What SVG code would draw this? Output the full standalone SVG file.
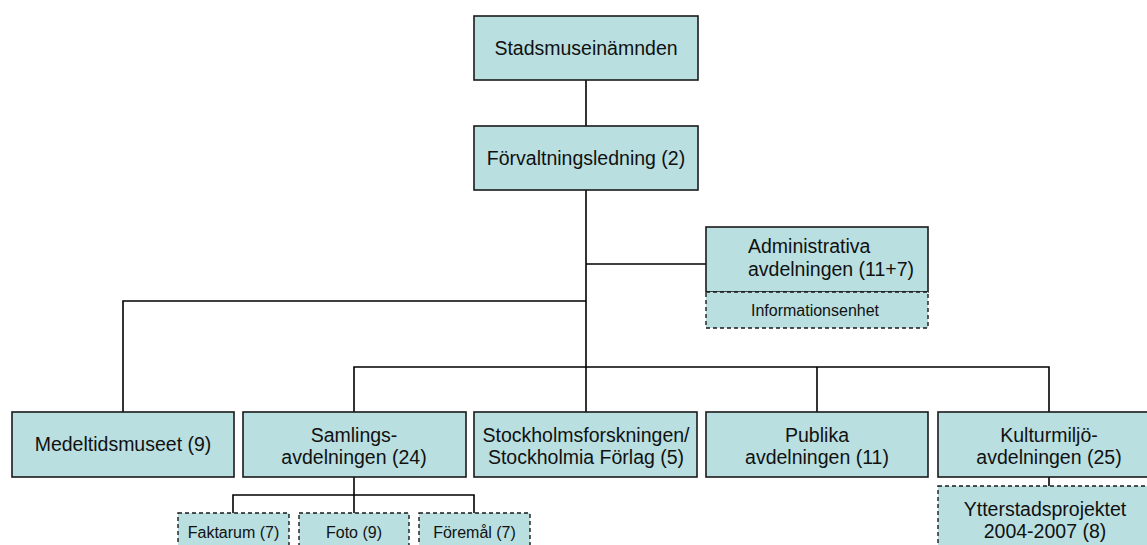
<svg xmlns="http://www.w3.org/2000/svg" width="1147" height="545" viewBox="0 0 1147 545">
<style>
.box{fill:#b9dfe0;stroke:#1a1a1a;stroke-width:1.6}
.dash{fill:#b9dfe0;stroke:#1a1a1a;stroke-width:1.4;stroke-dasharray:4 3}
.t{font-family:"Liberation Sans",Arial,sans-serif;font-size:19.5px;fill:#111;text-anchor:middle}
.s{font-family:"Liberation Sans",Arial,sans-serif;font-size:16px;fill:#111;text-anchor:middle}
.ln{fill:none;stroke:#000;stroke-width:1.6}
</style>
<rect width="1147" height="545" fill="#fff"/>
<g id="connectors">
<path class="ln" d="M586 80V126"/>
<path class="ln" d="M586 190V412" stroke-width="2"/>
<path class="ln" d="M586 264H706"/>
<path class="ln" d="M586 301H123V412"/>
<path class="ln" d="M354 412V367H1049V412"/>
<path class="ln" d="M817 367V412"/>
<path class="ln" d="M354 477V513"/>
<path class="ln" d="M233 513V495H474V513"/>
<path class="ln" d="M1049 477V486"/>
</g>
<g id="n-stadsmuseinamnden">
<rect class="box" x="474" y="16" width="224" height="64"/>
<text class="t" x="586" y="55">Stadsmuseinämnden</text>
</g>
<g id="n-forvaltningsledning">
<rect class="box" x="474" y="126" width="224" height="64"/>
<text class="t" x="586" y="165">Förvaltningsledning (2)</text>
</g>
<g id="n-administrativa">
<rect class="box" x="706" y="227" width="222" height="65"/>
<text class="t" x="748" y="253" style="text-anchor:start">Administrativa</text>
<text class="t" x="748" y="276" style="text-anchor:start">avdelningen (11+7)</text>
</g>
<g id="n-informationsenhet">
<rect class="dash" x="706" y="292" width="222" height="36"/>
<text class="s" x="815" y="316">Informationsenhet</text>
</g>
<g id="n-medeltidsmuseet">
<rect class="box" x="12" y="412" width="222" height="65"/>
<text class="t" x="123" y="451">Medeltidsmuseet (9)</text>
</g>
<g id="n-samlings">
<rect class="box" x="243" y="412" width="223" height="65"/>
<text class="t" x="354" y="442">Samlings-</text>
<text class="t" x="354" y="464">avdelningen (24)</text>
</g>
<g id="n-stockholmsforskningen">
<rect class="box" x="474" y="412" width="223" height="65"/>
<text class="t" x="586" y="442">Stockholmsforskningen/</text>
<text class="t" x="586" y="464">Stockholmia Förlag (5)</text>
</g>
<g id="n-publika">
<rect class="box" x="706" y="412" width="222" height="65"/>
<text class="t" x="817" y="442">Publika</text>
<text class="t" x="817" y="464">avdelningen (11)</text>
</g>
<g id="n-kulturmiljo">
<rect class="box" x="938" y="412" width="223" height="65"/>
<text class="t" x="1049" y="442">Kulturmiljö-</text>
<text class="t" x="1049" y="464">avdelningen (25)</text>
</g>
<g id="n-ytterstadsprojektet">
<rect class="dash" x="938" y="486" width="214" height="70"/>
<text class="t" x="1045" y="516">Ytterstadsprojektet</text>
<text class="t" x="1045" y="538">2004-2007 (8)</text>
</g>
<g id="n-faktarum">
<rect class="dash" x="178" y="513" width="111" height="40"/>
<text class="s" x="233.5" y="538">Faktarum (7)</text>
</g>
<g id="n-foto">
<rect class="dash" x="299" y="513" width="110" height="40"/>
<text class="s" x="354" y="538">Foto (9)</text>
</g>
<g id="n-foremal">
<rect class="dash" x="419" y="513" width="111" height="40"/>
<text class="s" x="474.5" y="538">Föremål (7)</text>
</g>
</svg>
